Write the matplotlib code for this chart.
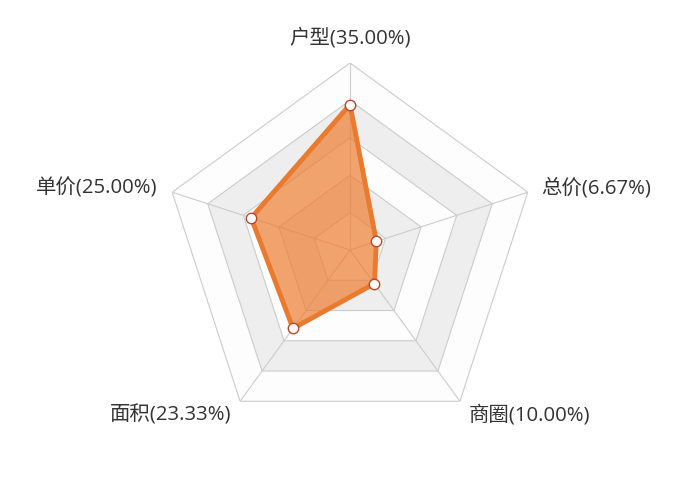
import numpy as np
import matplotlib
matplotlib.use("Agg")
import matplotlib.pyplot as plt

plt.rcParams['font.family'] = ['Open Sans', 'Noto Sans CJK SC', 'DejaVu Sans']

# Data (clockwise from top)
categories = ["户型", "总价", "商圈", "面积", "单价"]
values = [35.00, 6.67, 10.00, 23.33, 25.00]
max_value = 45.0
n_rings = 5

# label placement (offset in pixels from the vertex, alignment)
label_offsets = [(0, 25, "center"), (13, 4, "left"), (9, -14, "left"),
                 (-9, -14, "right"), (-15, 4, "right")]

LINE_COLOR = "#ea7a2e"
FILL_COLOR = "#ed7d31"
GRID_COLOR = "#cccccc"
RING_COLORS = ["#fdfdfd", "#eeeeee"]

fig = plt.figure(figsize=(7, 5), dpi=100)
ax = fig.add_axes([163 / 700, 63 / 500, 374 / 700, 374 / 500], projection="polar")
ax.set_theta_offset(np.pi / 2)
ax.set_theta_direction(-1)
ax.set_ylim(0, max_value)
ax.grid(False)
ax.spines["polar"].set_visible(False)
ax.set_xticks([])
ax.set_yticks([])
ax.patch.set_alpha(0)

n = len(categories)
angles = np.linspace(0, 2 * np.pi, n, endpoint=False)
closed = np.append(angles, angles[0])

# split areas, drawn from outside in
for k in range(n_rings, 0, -1):
    r = max_value * k / n_rings
    ax.fill(closed, [r] * (n + 1), color=RING_COLORS[(k - 1) % 2], zorder=1, lw=0)
for k in range(1, n_rings + 1):
    r = max_value * k / n_rings
    ax.plot(closed, [r] * (n + 1), color=GRID_COLOR, lw=0.8, zorder=2)
for a in angles:
    ax.plot([a, a], [0, max_value], color=GRID_COLOR, lw=0.8, zorder=2)

vals = values + values[:1]
ax.fill(closed, vals, color=FILL_COLOR, alpha=0.7, lw=0, zorder=3)
ax.plot(closed, vals, color=LINE_COLOR, lw=3.5, zorder=4, solid_joinstyle="round")
ax.plot(angles, values, "o", ms=7.5, mfc="white", mec="#b8482a", mew=1.0, zorder=5)

for a, name, v, (dx, dy, ha) in zip(angles, categories, values, label_offsets):
    ax.annotate("{}({:.2f}%)".format(name, v), xy=(a, max_value), xytext=(dx, dy),
                textcoords="offset pixels", ha=ha, va="center",
                fontsize=14.7, color="#333333", annotation_clip=False)

fig.savefig("out.png", dpi=100)
